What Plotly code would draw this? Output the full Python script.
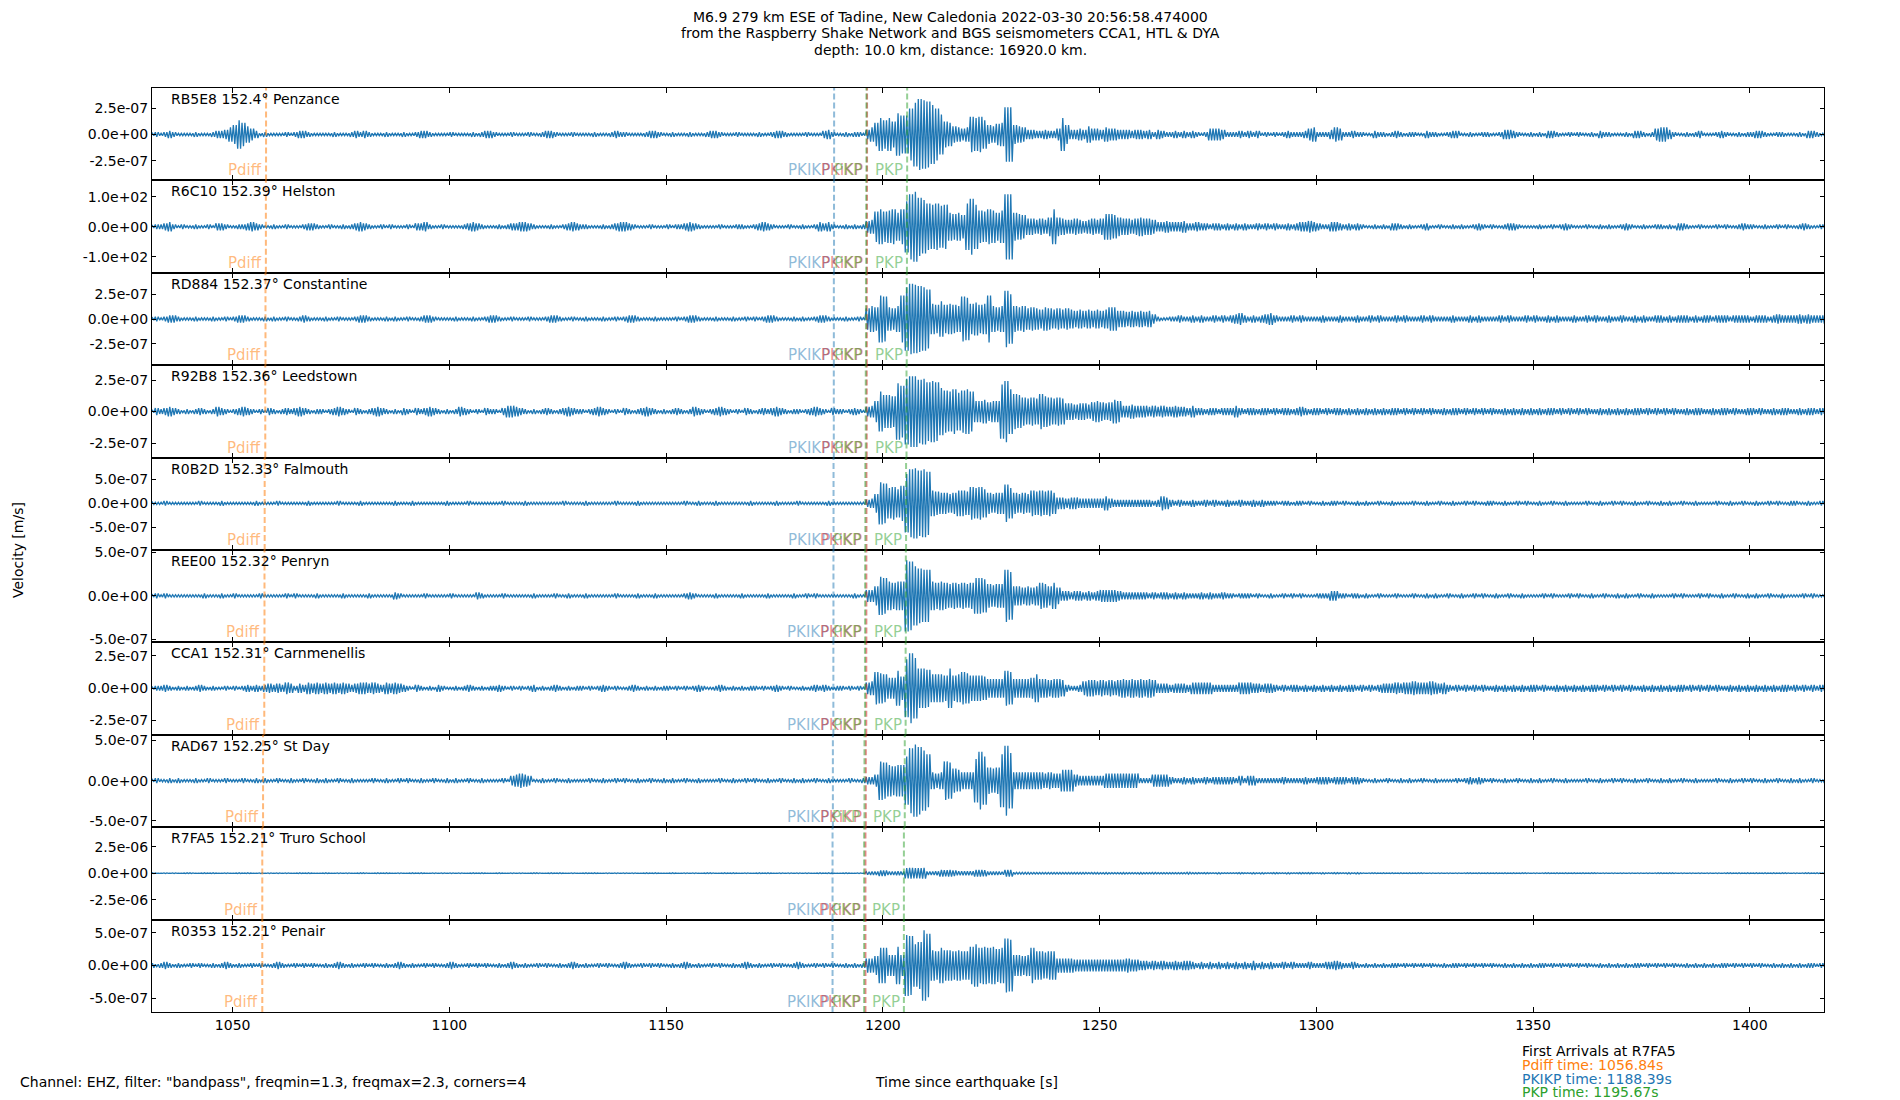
import numpy as np
import plotly.graph_objects as go
from plotly.subplots import make_subplots

# one character per second from T0, base 36 peak level (30 = biggest peak of the trace)
T0 = 1030

stations = ["RB5E8", "R6C10", "RD884", "R92B8", "R0B2D", "REE00", "CCA1", "RAD67", "R7FA5", "R0353"]
distances = ["152.4", "152.39", "152.37", "152.36", "152.33", "152.32", "152.31", "152.25", "152.21", "152.21"]
places = ["Penzance", "Helston", "Constantine", "Leedstown", "Falmouth", "Penryn",
          "Carnmenellis", "St Day", "Truro School", "Penair"]

# amplitude of level 30 in each trace
peak_amp = [3.35e-7, 116.0, 3.55e-7, 2.8e-7, 7.3e-7, 4.1e-7, 2.7e-7, 4.5e-7, 5.5e-7, 5.4e-7]
y_lo = [-4.34e-7, -152.8, -4.64e-7, -3.65e-7, -9.7e-7, -5.35e-7, -3.6e-7, -5.79e-7, -4.37e-6, -7.12e-7]
y_hi = [4.40e-7, 154.0, 4.64e-7, 3.68e-7, 9.5e-7, 5.28e-7, 3.55e-7, 5.71e-7, 4.34e-6, 7.03e-7]
y_step = [2.5e-7, 100.0, 2.5e-7, 2.5e-7, 5e-7, 5e-7, 2.5e-7, 5e-7, 2.5e-6, 5e-7]

# arrival times per station [s]
t_pdiff = [1057.71, 1057.67, 1057.58, 1057.53, 1057.39, 1057.35, 1057.30, 1057.02, 1056.84, 1056.84]
t_pkikp = [1188.75, 1188.73, 1188.69, 1188.68, 1188.62, 1188.60, 1188.58, 1188.47, 1188.39, 1188.39]
t_pkikp_r = [1196.35, 1196.33, 1196.29, 1196.27, 1196.21, 1196.19, 1196.17, 1196.06, 1195.98, 1195.98]
t_pkp = [1196.20, 1196.15, 1196.10, 1196.05, 1195.95, 1195.90, 1195.87, 1195.75, 1195.67, 1195.67]
t_pkp2 = [1205.60, 1205.55, 1205.50, 1205.45, 1205.35, 1205.30, 1205.25, 1205.05, 1204.85, 1204.85]

first_arrivals = ["Pdiff time: 1056.84s", "PKIKP time: 1188.39s", "PKP time: 1195.67s"]

peaks = [
    # RB5E8
    "1121232111 1211123346 8ca7531211 1121233211 1112111232 3211121112 1123321111 2111121233 "
    "2111211121 1233211121 1112111232 2111123321 1211121112 3321112111 1211233211 1121113421 "
    "12122146ae cebiggmrut spmhba7656 fefc879ann 8764433433 5e84454755 4655444344 3424322323 "
    "2321255542 2232323121 2123222356 2224652232 2113221232 1221132211 2331121122 1124432112 "
    "1213321121 2112132211 1213321256 6421121231 1123211212 2332112211 1213321121",
    # R6C10
    "2122342121 1211213321 1223432112 1121112332 1121121234 3211212111 2133421121 1112343211 "
    "1212334432 1112112343 2211121234 4321112111 2122343211 1121112211 2343211121 1211243421 "
    "12121256df defcfmsupn kjkijcbcak ojedfecess cba776768f 8766765676 7bba877678 7764454445 "
    "3343323323 2323223232 3223234454 3224432323 2112121332 1211231121 1212112321 2112332111 "
    "1211212321 1121121211 2321121122 1213321121 1121211232 2112112121 1232112111",
    # RD884
    "1121233211 1211121121 2332111212 1121123211 1211211123 3211121211 2112332111 1211121123 "
    "3211211121 1123321121 1211121121 2332111211 1121233211 1211121121 2123321112 1211233211 "
    "1211219bak ja9bkrutsr pdcfcdcbji decdkbabol bab9a98a98 9898787878 78aa776767 6742112232 "
    "2323223232 3453232345 3222323222 2322232223 2232322232 3222323222 2322232322 2232322232 "
    "3223232223 2232322322 3223232233 2323332323 3233323333 2333234333 3434333434",
    # R92B8
    "2132343212 1232124321 2343212132 1232343212 2123432132 1234321213 2132343212 1243212132 "
    "2135543212 1232123432 2123432121 3212343212 1232124321 2343212132 1232343212 2123432132 "
    "212321459h eedomsuurs pqpkihjgij h99a899nqj fecbcbfdcb cb77677689 878a955655 5454544544 "
    "3533233233 3532332332 3233234323 3232332323 2323232332 3232323223 2332323232 3223232323 "
    "2323323232 3232232323 2323323232 3232232332 2323323223 3232232332 2323323232",
    # R0B2D
    "1111211111 1121111211 1111121111 2111111211 1111211112 1111111211 1211111112 1111211111 "
    "1121111211 1111112111 1211111121 1112111111 1111211211 1211111112 1111121111 2111111211 "
    "111111348i hdecfptust rba9989bba edec9899gd 9898babab9 5545544444 4643333333 3323653232 "
    "2322323223 2232232322 2122122121 1212212112 1211211211 1121121121 1211212112 2112112121 "
    "1211211211 1121121121 2112112112 1211211211 1121121121 1211212112 2112112121",
    # REE00
    "1121211111 1112111211 2111112111 1121211112 1111121111 1211111321 1111211111 2111113211 "
    "1121111112 1111211211 1211111121 1112111211 1111232111 1211111211 1112111112 1121211111 "
    "111211558g fcbccutpnm mcbcbababa bffea9aamk 887878ba8b 7443443434 5555433333 3232332323 "
    "2223232232 2122212112 1121212111 2224422122 1211211121 1121121211 2112112121 1211211211 "
    "1121211121 2112112112 1211211211 1121211121 2112112112 1211211211 1121211121",
    # CCA1
    "2122321212 1232121121 2123232343 4354243545 4545454345 5454354543 2132121321 1212321212 "
    "2321212123 1212321212 2121232121 1232121212 2121212321 1232121212 2121232121 1212323212 "
    "21212156ed c99fapuqhh gcccbhbced bbba8888fe 88889c8878 8732236776 7676787878 7874443444 "
    "3555553333 3355544344 3232332323 2323232332 3232344454 5565556545 3232323232 2323232323 "
    "3232232323 2323323232 3232232323 2323323232 3232232323 2323232332 3232323223",
    # RAD67
    "1121121211 1211211121 1121121211 2112112112 1211211211 1121121121 2112112112 1211211211 "
    "1121456541 1211211211 1121121121 2112112112 1211211211 1121121121 2112112112 1211211211 "
    "112112335g fdcddkrusp m767gfa977 7iokbabmtn 7777777676 6999544444 4666666662 2255553223 "
    "2322323333 3242442222 2232222322 3332333233 2112112112 1211211211 1121232321 2112112112 "
    "1211211211 1121121121 2112112112 1211211211 1121121121 2112112112 1211211211",
    # R7FA5
    "1211212112 2112121121 1212112121 2121121211 1211212112 2112121121 1212112121 2121121211 "
    "1211212112 2112121121 1212112121 2121121211 1211212112 2112121121 1212112121 2121121211 "
    "121121899e e99a9rsrqs 99ahghfbba bhhg9998hh 5555444444 4444444344 3433343334 3343333333 "
    "5332322322 2232232322 3223223232 2322322323 2122121212 1212212121 2121221212 1212121221 "
    "2122121212 1212212121 2121212122 1221212121 2121221212 1212121221 2122121212",
    # R0353
    "1212321211 2121121232 1211212112 3211212121 1212321211 2121121232 1211212112 3211212121 "
    "1212321211 2121121232 1211212112 3211212121 1212321211 2121121232 1211212112 3211212121 "
    "121212668f f99g9qpiku rdcfddcdcc gifgfgefnm 9989fccbcc 6666555555 5555556554 4343433434 "
    "4323232323 2323242323 2232322232 2233432232 1212121221 2121212112 1221212121 2112121212 "
    "1221212121 2121121212 1212212121 2121121212 1212212121 2121121212 1212212121",
]

BLUE = "#1f77b4"
FONT = "DejaVu Sans"

# plot area in pixels
L, R, TOP, BOT = 152, 1824, 88, 1012


def paper(xp, yp):
    return (xp - L) / (R - L), (BOT - yp) / (BOT - TOP)


def trace_xy(levels, amp):
    # three alternating peaks per second, all of that second's level
    lv = np.array([int(c, 36) for c in levels.replace(" ", "")], dtype=float) * amp / 30
    t = T0 + np.arange(len(lv))
    x = (t[:, None] + np.array([1 / 6, 1 / 2, 5 / 6])).ravel()
    sign = np.where(np.arange(x.size) % 2 == 0, 1.0, -1.0)
    y = np.repeat(lv, 3) * sign
    return x, y


n = len(stations)
fig = make_subplots(rows=n, cols=1, shared_xaxes=True, vertical_spacing=0)

phases = [
    ("Pdiff", t_pdiff, "rgba(255,127,14,0.55)"),
    ("PKIKP", t_pkikp, "rgba(31,119,180,0.5)"),
    ("PKiKP", t_pkikp_r, "rgba(214,39,40,0.55)"),
    ("PKP", t_pkp, "rgba(44,160,44,0.5)"),
    ("PKP", t_pkp2, "rgba(44,160,44,0.5)"),
]

for i in range(n):
    row = i + 1
    x, y = trace_xy(peaks[i], peak_amp[i])
    fig.add_trace(go.Scatter(x=x, y=y, mode="lines", line=dict(color=BLUE, width=1.3),
                             hoverinfo="skip"), row=row, col=1)

    sfx = "" if row == 1 else str(row)
    for name, times, col in phases:
        fig.add_shape(type="line", x0=times[i], x1=times[i], y0=0, y1=1,
                      xref="x" + sfx, yref="y" + sfx + " domain",
                      line=dict(color=col, width=2, dash="6px,3px"))
        fig.add_annotation(x=times[i], y=0, xref="x" + sfx, yref="y" + sfx + " domain",
                           text=name, showarrow=False, xanchor="right", yanchor="bottom",
                           xshift=-2, yshift=-1, font=dict(family=FONT, size=15, color=col))

    fig.add_annotation(x=(169 - L) / (R - L), y=1, xref="x" + sfx + " domain",
                       yref="y" + sfx + " domain",
                       text=f"{stations[i]} {distances[i]}° {places[i]}", showarrow=False,
                       xanchor="left", yanchor="top", yshift=-1,
                       font=dict(family=FONT, size=14, color="black"))

    ticks = [y_step[i], 0.0, -y_step[i]]
    fig.update_yaxes(row=row, col=1, range=[y_lo[i], y_hi[i]], tickvals=ticks,
                     ticktext=[f"{v:.1e}" for v in ticks], ticks="inside", ticklen=4,
                     tickcolor="black", showline=True, linecolor="black", linewidth=1,
                     mirror="ticks", showgrid=False, zeroline=False,
                     tickfont=dict(family=FONT, size=14, color="black"))

fig.update_xaxes(range=[1031.4, 1417.1], tickvals=list(range(1050, 1401, 50)),
                 ticks="inside", ticklen=5, tickcolor="black", showline=True,
                 linecolor="black", linewidth=1, mirror="ticks", showgrid=False,
                 zeroline=False, tickfont=dict(family=FONT, size=14, color="black"))

title_lines = [
    "M6.9 279 km ESE of Tadine, New Caledonia 2022-03-30 20:56:58.474000",
    "from the Raspberry Shake Network and BGS seismometers CCA1, HTL & DYA",
    "depth: 10.0 km, distance: 16920.0 km.",
]
for k, line in enumerate(title_lines):
    xp, yp = paper(950, 16.7 + 16.7 * k)
    fig.add_annotation(x=xp, y=yp, xref="paper", yref="paper", text=line, showarrow=False,
                       xanchor="center", yanchor="middle",
                       font=dict(family=FONT, size=14, color="black"))

xp, yp = paper(18, 1081.7)
fig.add_annotation(x=xp, y=yp, xref="paper", yref="paper", showarrow=False,
                   text='Channel: EHZ, filter: "bandpass", freqmin=1.3, freqmax=2.3, corners=4',
                   xanchor="left", yanchor="middle", font=dict(family=FONT, size=14, color="black"))
xp, yp = paper(873, 1081.7)
fig.add_annotation(x=xp, y=yp, xref="paper", yref="paper", showarrow=False,
                   text="Time since earthquake [s]", xanchor="left", yanchor="middle",
                   font=dict(family=FONT, size=14, color="black"))
xp, yp = paper(18, 550)
fig.add_annotation(x=xp, y=yp, xref="paper", yref="paper", showarrow=False,
                   text="Velocity [m/s]", textangle=-90, xanchor="center", yanchor="middle",
                   font=dict(family=FONT, size=14, color="black"))

legend_cols = ["black", "#ff7f0e", "#1f77b4", "#2ca02c"]
legend_txt = ["First Arrivals at R7FA5"] + first_arrivals
for k, (txt, col) in enumerate(zip(legend_txt, legend_cols)):
    xp, yp = paper(1520, 1050.7 + 13.9 * k)
    fig.add_annotation(x=xp, y=yp, xref="paper", yref="paper", text=txt, showarrow=False,
                       xanchor="left", yanchor="middle",
                       font=dict(family=FONT, size=14, color=col))

fig.update_layout(
    width=1900, height=1100,
    margin=dict(l=L, r=1900 - R, t=TOP, b=1100 - BOT),
    plot_bgcolor="white", paper_bgcolor="white",
    showlegend=False,
    font=dict(family=FONT, size=14, color="black"),
)

# the page body has a default margin, drop it so the figure sits at the window corner
fig.write_html("out.html", config={"displayModeBar": False},
               post_script="document.body.style.margin='0px';")
